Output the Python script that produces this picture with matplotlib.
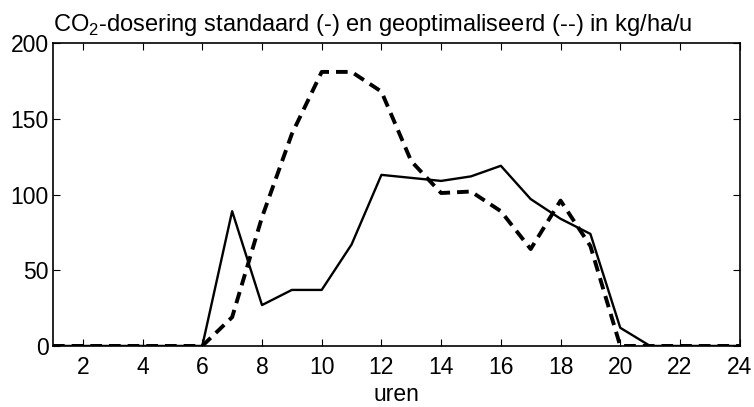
import matplotlib
matplotlib.use("Agg")
import matplotlib.pyplot as plt

plt.rcParams['font.family'] = ['Liberation Sans', 'DejaVu Sans']
plt.rcParams['mathtext.fontset'] = 'custom'
plt.rcParams['mathtext.rm'] = 'Liberation Sans'

hours = list(range(1, 25))
standaard = [0, 0, 0, 0, 0, 0, 89, 27, 37, 37, 67, 113, 111, 109, 112, 119, 97, 84, 74, 12, 0, 0, 0, 0]
geoptimaliseerd = [0, 0, 0, 0, 0, 0, 19, 85, 140, 181, 181, 168, 122, 101, 102, 89, 64, 96, 66, 0, 0, 0, 0, 0]
xticks = list(range(2, 25, 2))
yticks = [0, 50, 100, 150, 200]

fig = plt.figure(figsize=(7.54, 4.07), dpi=100)
ax = fig.add_axes([0.0703, 0.150, 0.9107, 0.744])
ax.plot(hours, standaard, color='black', linewidth=1.7, linestyle='-')
ax.plot(hours, geoptimaliseerd, color='black', linewidth=2.8, linestyle=(0, (3.0, 1.8)))
ax.set_xlim(1, 24)
ax.set_ylim(0, 200)
ax.set_xticks(xticks)
ax.set_yticks(yticks)
ax.tick_params(direction='in', top=True, right=True, labelsize=16.5, length=5, width=0.8)
ax.tick_params(axis='x', pad=7)
ax.tick_params(axis='y', pad=3)
for s in ax.spines.values():
    s.set_linewidth(1.2)
ax.set_xlabel('uren', fontsize=16.5, labelpad=3)
ax.set_title('CO$_\\mathrm{2}$-dosering standaard (-) en geoptimaliseerd (--) in kg/ha/u',
             fontsize=17, loc='left', pad=9)
fig.savefig('out.png', dpi=100)
